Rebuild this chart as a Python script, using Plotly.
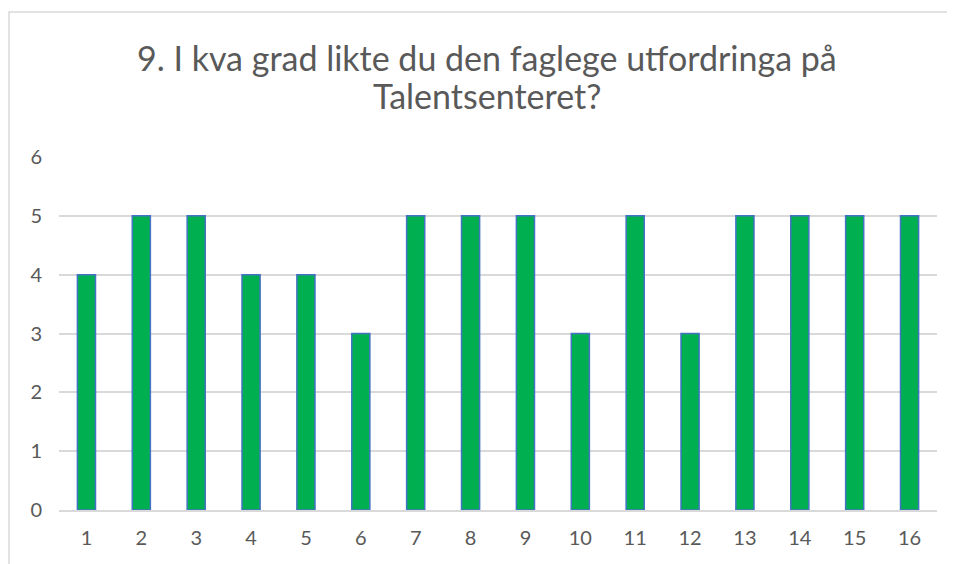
import plotly.graph_objects as go

categories = [str(i) for i in range(1, 17)]
values = [4, 5, 5, 4, 4, 3, 5, 5, 5, 3, 5, 3, 5, 5, 5, 5]
title_lines = ["9. I kva grad likte du den faglege utfordringa på", "Talentsenteret?"]

# page has an 8px body margin; figure coordinates = page coordinates - 8
OFF = 8
W, H = 955 - OFF, 564 - OFF
L, R, T, B = 59 - OFF, 955 - 937, 157 - OFF, 564 - 510
pw, ph = W - L - R, H - T - B

def px(x):
    return (x - OFF - L) / pw

def py(y):
    return (H - B - (y - OFF)) / ph

fig = go.Figure(go.Bar(
    x=categories, y=values,
    marker=dict(color="#00B050", line=dict(color="#4472C4", width=1.5)),
    width=0.33,
))

annotations = []
for line, ypage in zip(title_lines, [57, 96]):
    annotations.append(dict(text=line, xref="paper", yref="paper", x=px(487), y=py(ypage),
                            xanchor="center", yanchor="middle", showarrow=False,
                            font=dict(family="Lato, Open Sans, sans-serif", size=34, color="#595959")))

fig.update_layout(
    width=W, height=H,
    margin=dict(l=L, r=R, t=T, b=B),
    paper_bgcolor="white", plot_bgcolor="white",
    showlegend=False,
    font=dict(family="Lato, Open Sans, sans-serif", size=20, color="#595959"),
    xaxis=dict(type="category", showgrid=False, showline=True, linecolor="#D9D9D9", linewidth=1.5,
               ticks="", ticklabelstandoff=9, tickfont=dict(size=20, color="#595959")),
    yaxis=dict(range=[0, 6], dtick=1, showgrid=True, gridcolor="#D9D9D9", gridwidth=1.5,
               zeroline=False, showline=False, ticks="", ticklabelstandoff=16,
               tickfont=dict(size=20, color="#595959")),
    shapes=[dict(type="rect", xref="paper", yref="paper",
                 x0=px(9), x1=px(951), y0=py(620), y1=py(12),
                 line=dict(color="#D9D9D9", width=1.5), fillcolor="rgba(0,0,0,0)", layer="below")],
    annotations=annotations,
)

fig.write_html("out.html")
